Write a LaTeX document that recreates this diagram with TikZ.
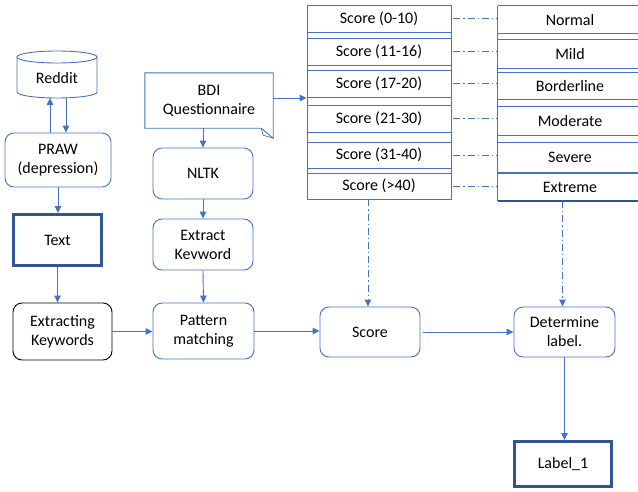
\documentclass[tikz,border=0pt]{standalone}
\usepackage{fontspec}
\setmainfont{Carlito}
\usetikzlibrary{arrows.meta,calc}
\definecolor{lblue}{HTML}{4472C4}
\definecolor{dblue}{HTML}{2F5597}
\begin{document}
\begin{tikzpicture}[x=1pt,y=-1pt,
  every node/.style={font=\fontsize{16}{19}\selectfont, text=black, align=center, inner sep=0pt},
  rbox/.style={draw=lblue, line width=0.9pt, rounded corners=9pt},
  kbox/.style={draw=black, line width=0.9pt, rounded corners=9pt},
  tbox/.style={draw=dblue, line width=3pt},
  cell/.style={draw=lblue, line width=0.9pt, minimum width=144pt},
  arr/.style={draw=lblue, line width=0.9pt, -{Triangle[length=7pt,width=6.5pt]}},
  dd/.style={draw=lblue, line width=0.9pt, dash pattern=on 7pt off 3pt on 1.2pt off 3pt},
]
\useasboundingbox (0,0) rectangle (638,491);
\fill[white] (0,0) rectangle (638,491);

% Reddit cylinder
\draw[lblue, line width=0.9pt] (17,57) -- (17,92) arc (180:360:40pt and 6pt) -- (97,57);
\draw[lblue, line width=0.9pt] (57,57) ellipse [x radius=40pt, y radius=6pt];
\node (reddit) at (57,78) [minimum width=80pt, minimum height=40pt] {Reddit};
\coordinate (rbot) at (57,98);

\node[rbox, minimum width=106pt, minimum height=54pt] (praw) at (58,160) {PRAW\\(depression)};
\node[tbox, minimum width=88pt, minimum height=51pt] (text) at (57.5,240) {Text};
\node[kbox, minimum width=99pt, minimum height=57pt] (ek) at (62.5,331.5) {Extracting\\Keywords};

% BDI note shape
\node[minimum width=128pt, minimum height=55pt] (bdi) at (209,100.5) {BDI\\Questionnaire};
\draw[lblue, line width=0.9pt] (bdi.north west) -- (bdi.north east) -- ([yshift=-10pt]bdi.south east) -- ([xshift=-12pt]bdi.south east) -- (bdi.south west) -- cycle;
\draw[lblue, line width=0.7pt] ([yshift=-10pt]bdi.south east) -- ([xshift=-10pt,yshift=-7pt]bdi.south east) -- ([xshift=-12pt]bdi.south east);

\node[rbox, minimum width=100pt, minimum height=51pt] (nltk) at (203,173.5) {NLTK};
\node[rbox, minimum width=100pt, minimum height=51pt] (ekw) at (203,244.5) {Extract\\Kevword};
\node[rbox, minimum width=101pt, minimum height=56pt] (pm) at (203.5,331) {Pattern\\matching};
\node[rbox, minimum width=100pt, minimum height=50pt] (score) at (370,332) {Score};
\node[rbox, minimum width=101pt, minimum height=50pt] (det) at (564.5,332) {Determine\\label.};
\node[tbox, minimum width=97pt, minimum height=45pt] (lab) at (563,464) {Label\_1};

% score table
\draw[lblue, line width=0.9pt] (307,5) rectangle (451,199);
\node[cell, minimum height=27pt] (s1) at (379,18.5) {Score (0-10)};
\node[cell, minimum height=27pt] (s2) at (379,51.5) {Score (11-16)};
\node[cell, minimum height=27pt] (s3) at (379,83.5) {Score (17-20)};
\node[cell, minimum height=27pt] (s4) at (379,118.5) {Score (21-30)};
\node[cell, minimum height=26pt] (s5) at (379,155) {Score (31-40)};
\node[cell, minimum height=26pt] (s6) at (379,186) {Score (>40)};

% label table
\node[minimum width=144pt, minimum height=27pt] (n1) at (570,19.5) {Normal};
\node[minimum width=144pt, minimum height=28pt] (n2) at (570,54) {Mild};
\node[minimum width=144pt, minimum height=26pt] (n3) at (570,86) {Borderline};
\node[minimum width=144pt, minimum height=28pt] (n4) at (570,121) {Moderate};
\node[minimum width=144pt, minimum height=29pt] (n5) at (570,157.5) {Severe};
\node[minimum width=144pt, minimum height=27pt] (n6) at (570,187.5) {Extreme};
\draw[lblue, line width=0.9pt] (n1.north west) -- (n6.south west);
\foreach \n in {n1,n2,n3,n4,n5}{
  \draw[lblue, line width=0.9pt] (\n.north west) -- (\n.north east);
  \draw[lblue, line width=0.9pt] (\n.south west) -- (\n.south east);
}
\draw[lblue, line width=0.9pt] (n6.north west) -- (n6.north east);
\draw[dblue, line width=1.6pt] (n6.south west) -- (n6.south east);

% connectors
\draw[arr] ([xshift=-8pt]praw.north) -- ([xshift=-8pt]praw.north |- rbot);
\draw[arr] ([xshift=9pt]rbot) -- ([xshift=9pt]rbot |- praw.north);
\draw[arr] (praw.south) -- (praw.south |- text.north);
\draw[arr] (text.south) -- (text.south |- ek.north);
\draw[arr] (ek.east) -- (ek.east -| pm.west);
\draw[arr] (nltk.north |- bdi.south) -- (nltk.north);
\draw[arr] (nltk.south) -- (ekw.north);
\draw[arr] (ekw.south) -- (pm.north);
\draw[arr] ([yshift=2.5pt]bdi.east) -- ([yshift=2.5pt]bdi.east -| s1.west);
\draw[arr] (pm.east) -- (pm.east -| score.west);
\draw[arr] ([xshift=3pt]score.east) -- (det.west);
\draw[arr] (det.south) -- (det.south |- lab.north);
\draw[dd, -{Triangle[length=7pt,width=6.5pt]}] ([xshift=-2pt]score.north |- s6.south) -- ([xshift=-2pt]score.north);
\draw[dd, -{Triangle[length=7pt,width=6.5pt]}] ([xshift=-2pt]det.north |- n6.south) -- ([xshift=-2pt]det.north);
\foreach \i in {1,...,6}{
  \draw[dd] ([xshift=2pt]s\i.east) -- (s\i.east -| n\i.west);
}
\end{tikzpicture}
\end{document}
